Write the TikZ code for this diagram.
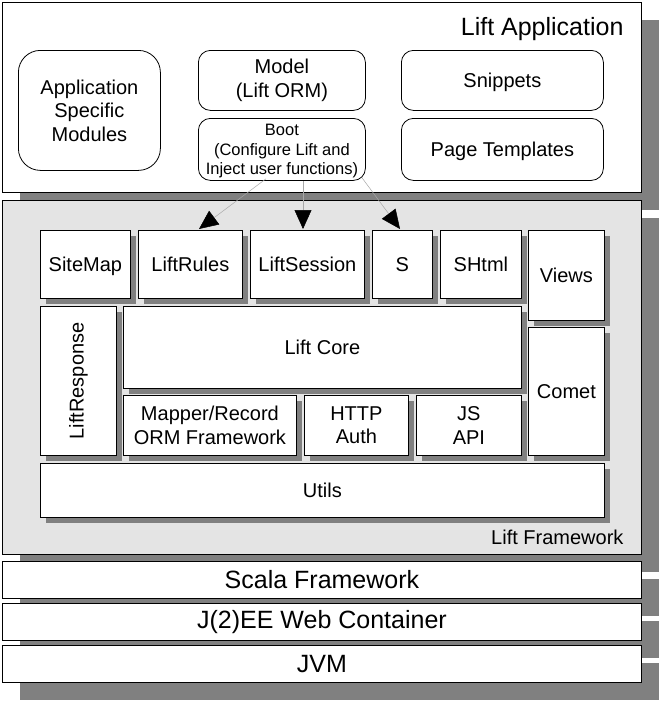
\documentclass[tikz,border=0pt]{standalone}
\usepackage{fontspec}
\setmainfont{Liberation Sans}
\usetikzlibrary{shadows,arrows.meta,calc}
\definecolor{shgray}{HTML}{808080}
\definecolor{fwgray}{HTML}{E4E4E4}
\definecolor{linegray}{HTML}{A8A8A8}
\tikzset{
  x=1pt,y=-1pt,
  bigbox/.style={draw=black,line width=0.9pt,fill=white,anchor=north west,inner sep=0pt,
    drop shadow={shadow xshift=18pt,shadow yshift=-18pt,fill=shgray,opacity=1},
    font=\fontsize{25}{28}\selectfont},
  inbox/.style={draw=black,line width=0.8pt,fill=white,anchor=north west,inner sep=0pt,align=center,
    drop shadow={shadow xshift=6pt,shadow yshift=-6pt,fill=shgray,opacity=1},
    font=\fontsize{20}{23.5}\selectfont},
  rbox/.style={draw=black,line width=0.8pt,fill=white,anchor=north west,inner sep=0pt,align=center,
    rounded corners=12pt,font=\fontsize{20}{23.5}\selectfont},
  nodesc/.style={text depth=0pt},
  conn/.style={draw=linegray,line width=0.5pt,-{Triangle[length=19pt,width=17pt,color=black]}}
}
\begin{document}
\begin{tikzpicture}
\useasboundingbox (0,0) rectangle (663,704);
% Lift Application
\node[bigbox,minimum width=639,minimum height=190] (app) at (2,2) {};
\node[anchor=east,font=\fontsize{25}{28}\selectfont] (applabel) at (627,29) {Lift Application};
\node[rbox,rounded corners=22pt,minimum width=142,minimum height=120] (asm) at (18,50) {Application\\Specific\\Modules};
\node[rbox,minimum width=167,minimum height=60] (model) at (198,50) {Model\\(Lift ORM)};
\node[rbox,minimum width=167,minimum height=62,font=\fontsize{16.5}{19.5}\selectfont] (boot) at (198,118) {\rule{0pt}{15pt}Boot\\(Configure Lift and\\Inject user functions)};
\node[rbox,nodesc,minimum width=202,minimum height=60] (snippets) at (401,50) {Snippets};
\node[rbox,nodesc,minimum width=202,minimum height=62] (pagetpl) at (401,118) {Page Templates};
% Lift Framework
\node[bigbox,fill=fwgray,minimum width=639,minimum height=354] (fw) at (2,200) {};
\node[anchor=east,font=\fontsize{20}{23}\selectfont] (fwlabel) at (627,537) {Lift Framework};
\node[inbox,nodesc,minimum width=90,minimum height=68] (sitemap) at (40,230) {SiteMap};
\node[inbox,minimum width=104,minimum height=68] (liftrules) at (138,230) {LiftRules};
\node[inbox,minimum width=114,minimum height=68] (liftsession) at (250,230) {LiftSession};
\node[inbox,minimum width=60,minimum height=68] (s) at (372,230) {S};
\node[inbox,minimum width=81,minimum height=68] (shtml) at (440,230) {SHtml};
\node[inbox,minimum width=76,minimum height=90] (views) at (528,230) {Views};
\node[inbox,minimum width=76,minimum height=149] (liftresponse) at (40,306) {\rotatebox{90}{LiftResponse}};
\node[inbox,minimum width=398,minimum height=82] (liftcore) at (123,306) {Lift Core};
\node[inbox,minimum width=173,minimum height=60] (mapper) at (123,395) {Mapper/Record\\ORM Framework};
\node[inbox,minimum width=104,minimum height=60] (http) at (304,395) {HTTP\\Auth};
\node[inbox,minimum width=105,minimum height=60] (js) at (416,395) {JS\\API};
\node[inbox,minimum width=76,minimum height=128] (comet) at (528,327) {Comet};
\node[inbox,minimum width=564,minimum height=54] (utils) at (40,463) {Utils};
% Lower layers
\node[bigbox,minimum width=639,minimum height=37] (scala) at (2,561) {Scala Framework};
\node[bigbox,minimum width=639,minimum height=37] (j2ee) at (2,603) {J(2)EE Web Container};
\node[bigbox,minimum width=639,minimum height=37] (jvm) at (2,645) {JVM};
% Connectors
\draw[conn] ($(boot.south west)+(68,-2)$) -- ($(liftrules.north west)+(61,-1)$);
\draw[conn] ($(boot.south west)+(105,0)$) -- ($(liftsession.north west)+(53,-1)$);
\draw[conn] ($(boot.south west)+(164,-3)$) -- ($(s.north west)+(28,-1)$);
\end{tikzpicture}
\end{document}
